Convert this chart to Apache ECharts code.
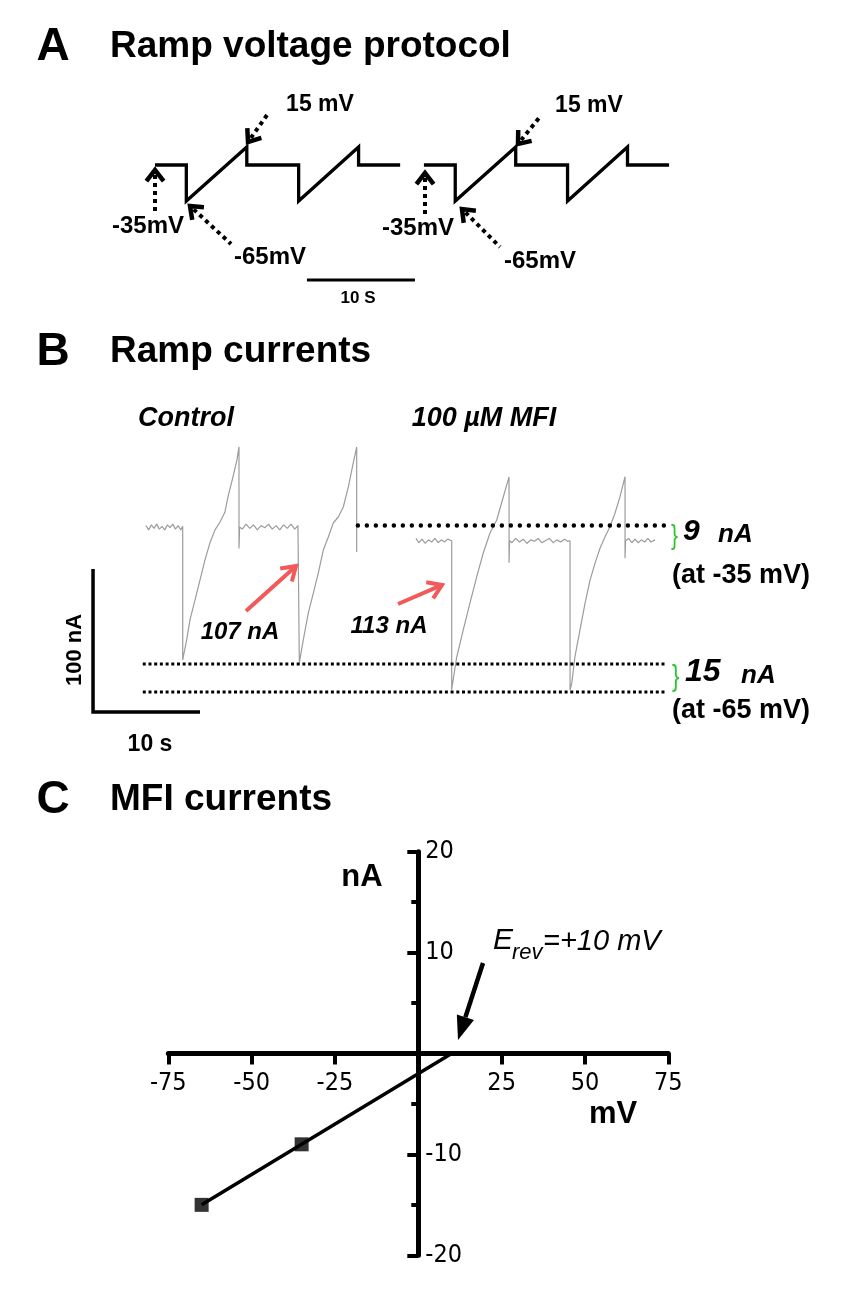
<!DOCTYPE html>
<html><head><meta charset="utf-8">
<script src="https://cdn.jsdelivr.net/npm/echarts@6/dist/echarts.min.js"></script>
<style>html,body{margin:0;padding:0;background:#fff}#c{width:842px;height:1296px}</style>
</head><body><div id="c"></div>
<script>
// ---------- Panel A: ramp voltage protocol (schematic, levels as drawn) ----------
const protoT = [0, 2.9, 2.9, 8.5, 8.5, 13.3, 13.3, 18.85, 18.85, 22.7];   // s
const protoV = [-35, -35, -65, -20, -35, -35, -65, -20, -35, -35];        // drawn level
const protoStarts = [0, 24.9];                                            // s
const scaleBarA = 10;                                                     // s

// ---------- Panel B: ramp currents (nA vs s) ----------
const ctrlT = [0,0.25,0.5,0.75,1.0,1.25,1.5,1.75,2.0,2.25,2.5,2.75,3.0,3.25,3.43,
  3.43,3.49,3.80,4.11,4.58,5.05,5.51,5.98,6.45,6.92,7.38,7.66,8.13,8.50,8.69,
  8.69,8.75,9.0,9.35,9.7,10.05,10.4,10.75,11.1,11.45,11.8,12.15,12.5,12.85,13.2,13.55,13.9,14.2,14.33,
  14.33,14.39,14.70,15.17,15.64,16.10,16.57,17.04,17.50,17.97,18.44,18.91,19.37,19.69,19.69];
const ctrlI = [1,-2,1.5,-1,2,-1.5,0.5,-2,1.5,-0.5,2,-1.5,1,-2,0.5,
  -93,-93,-79,-65,-51,-37,-23,-11,-2,3.5,10.5,21,35,47,56,
  -15,0,-1.5,2,-1,1.5,-2,1,-0.5,2,-1.5,1,-2,1.5,-1,2,-1.5,1,0,
  -95,-95.1,-79,-60.1,-46.2,-32.2,-16.1,-7,2.8,7,14,28,44.8,55.9,-17.5];
const mfiT = [25.23,25.5,25.8,26.1,26.4,26.7,27.0,27.3,27.6,27.9,28.2,28.57,
  28.57,28.66,29.04,29.65,30.28,30.90,31.52,32.15,32.78,33.39,33.93,
  33.93,33.98,34.2,34.55,34.9,35.25,35.6,35.95,36.3,36.65,37.0,37.35,37.7,38.05,38.4,38.75,39.1,39.4,39.63,
  39.63,39.79,40.09,40.56,41.03,41.50,41.96,42.43,42.90,43.36,43.83,44.30,44.77,
  44.77,44.82,45.1,45.4,45.7,46.0,46.3,46.6,46.9,47.2,47.57];
const mfiI = [-8,-11,-8.5,-11.5,-9,-10.5,-8,-11,-9,-10.5,-8.5,-9.6,
  -114,-109.1,-90.9,-72,-53.1,-35,-18.2,-4.2,4.9,21,35,
  -25,-9.6,-11,-8,-10.5,-8.5,-11.5,-9,-10,-8,-11,-9.5,-8,-11,-9,-10.5,-8.5,-10,-9.6,
  -114,-109.3,-90.7,-72,-53.4,-37.1,-25.4,-14.9,-6.8,0.2,9.6,21.2,35.2,
  -21.9,-9.6,-8,-11,-8.5,-11,-9,-10.5,-8,-10.5,-9];
const refLevelsI = [1, -95.8, -115.4];        // dotted reference levels (nA)
const refStartT = [19.8, -0.3, -0.3];         // s
const refEndT = 48.5;                         // s
const scaleBarB_nA = 100, scaleBarB_s = 10;

// ---------- Panel C: MFI I-V ----------
const ivV = [-65, -35];        // mV
const ivI = [-15, -9];         // nA
const eRev = 10;               // mV (fit meets 0 nA)
const cX = {min:-75, max:75, step:25};
const cY = {min:-20, max:20, step:10};

// ---------- helpers ----------
const SANS = '"Liberation Sans", Arial, Helvetica, sans-serif';
const NARROW = '"Liberation Sans Narrow", "DejaVu Sans Condensed", "Liberation Sans", Arial, sans-serif';
function txt(x, y, text, font, o) {
  o = o || {};
  return {type:'text', x:x, y:y, rotation:o.rot||0, scaleX:o.sx||1, z:100,
    style:{text:text, font:font, fill:o.color||'#000',
      textAlign:o.align||'left', align:o.align||'left',
      textVerticalAlign:'middle', verticalAlign:'middle'}};
}
function unit(a, b){ const dx=b[0]-a[0], dy=b[1]-a[1], L=Math.hypot(dx,dy); return [dx/L, dy/L]; }
function rot(u, deg){ const a=deg*Math.PI/180; return [u[0]*Math.cos(a)-u[1]*Math.sin(a), u[0]*Math.sin(a)+u[1]*Math.cos(a)]; }
function chevron(tip, tail, len, ang, w, color) {
  const u = unit(tip, tail), r1 = rot(u, ang), r2 = rot(u, -ang);
  return {type:'polyline', z:90, shape:{points:[[tip[0]+r1[0]*len, tip[1]+r1[1]*len], tip, [tip[0]+r2[0]*len, tip[1]+r2[1]*len]]},
    style:{stroke:color, lineWidth:w, fill:null, lineJoin:'miter', lineCap:'butt'}};
}
function shaft(tip, tail, off, w, color, dash) {
  const u = unit(tip, tail);
  return {type:'line', z:90, shape:{x1:tip[0]+u[0]*off, y1:tip[1]+u[1]*off, x2:tail[0], y2:tail[1]},
    style:{stroke:color, lineWidth:w, lineDash:dash||null, lineCap:'butt'}};
}
function dottedArrow(tip, tail){ return [shaft(tip, tail, 5, 4, '#000', [4,4]), chevron(tip, tail, 14, 38, 4.5, '#000')]; }
function redArrow(tip, tail){ return [shaft(tip, tail, 1, 4, '#f25a5a'), chevron(tip, tail, 16, 33, 4, '#f25a5a')]; }
function filledArrow(tip, tail, hl, hw, w) {
  const u = unit(tip, tail), n = [-u[1], u[0]];
  const b = [tip[0]+u[0]*hl, tip[1]+u[1]*hl];
  return [
    {type:'line', z:90, shape:{x1:b[0], y1:b[1], x2:tail[0], y2:tail[1]}, style:{stroke:'#000', lineWidth:w}},
    {type:'polygon', z:90, shape:{points:[tip, [b[0]+n[0]*hw, b[1]+n[1]*hw], [b[0]-n[0]*hw, b[1]-n[1]*hw]]}, style:{fill:'#000'}}
  ];
}

// ---------- series ----------
const series = [];
protoStarts.forEach(function(s){
  series.push({type:'line', xAxisIndex:0, yAxisIndex:0, showSymbol:false, clip:false, animation:false,
    data: protoT.map(function(t,i){ return [s+t, protoV[i]]; }),
    lineStyle:{color:'#000', width:3.3, join:'miter'}});
});
series.push({type:'line', xAxisIndex:0, yAxisIndex:0, showSymbol:false, clip:false, animation:false,
  data:[[14.07,-130.8],[14.07+scaleBarA,-130.8]], lineStyle:{color:'#000', width:3}});

series.push({type:'line', xAxisIndex:1, yAxisIndex:1, showSymbol:false, clip:false, animation:false,
  data: ctrlT.map(function(t,i){ return [t, ctrlI[i]]; }), lineStyle:{color:'#9c9c9c', width:1.2}});
series.push({type:'line', xAxisIndex:1, yAxisIndex:1, showSymbol:false, clip:false, animation:false,
  data: mfiT.map(function(t,i){ return [t, mfiI[i]]; }), lineStyle:{color:'#9c9c9c', width:1.2}});
refLevelsI.forEach(function(v, k){
  series.push({type:'line', xAxisIndex:1, yAxisIndex:1, showSymbol:false, clip:false, animation:false, z:5,
    data:[[refStartT[k], v],[refEndT, v]],
    lineStyle: k===0 ? {color:'#000', width:4.5, type:[0,9], cap:'round'} : {color:'#000', width:3, type:[3,2.7]}});
});
series.push({type:'line', xAxisIndex:1, yAxisIndex:1, showSymbol:false, clip:false, animation:false,
  data:[[-4.95,-129.4+scaleBarB_nA],[-4.95,-129.4],[-4.95+scaleBarB_s,-129.4]], lineStyle:{color:'#000', width:3.5, join:'miter'}});

series.push({type:'line', xAxisIndex:2, yAxisIndex:2, showSymbol:false, clip:false, animation:false, z:10,
  data: ivV.map(function(v,i){ return [v, ivI[i]]; }).concat([[eRev, 0]]), lineStyle:{color:'#000', width:3.5}});
series.push({type:'scatter', xAxisIndex:2, yAxisIndex:2, symbol:'rect', symbolSize:14, animation:false, z:11,
  itemStyle:{color:'#000'}, data: ivV.map(function(v,i){ return [v, ivI[i]]; })});

const gridC = {left:168.3, width:500, top:851.7, height:403.6};
// place the crossing axes at the zero of the other axis
const xOff = -gridC.height * (0 - cY.min) / (cY.max - cY.min);
const yOff = -gridC.width * (0 - cX.min) / (cX.max - cX.min);

const hidden = {show:false};
const option = {
  backgroundColor:'#fff',
  animation:false,
  grid:[
    {left:155, width:513, top:141, height:144},
    {left:92.5, width:577.8, top:441.2, height:271.7},
    gridC
  ],
  xAxis:[
    {gridIndex:0, type:'value', min:0, max:47.5, show:false, splitLine:hidden},
    {gridIndex:1, type:'value', min:-5, max:49, show:false, splitLine:hidden},
    {gridIndex:2, type:'value', min:cX.min, max:cX.max, interval:cX.step, position:'bottom', offset:xOff,
      axisLine:{onZero:false, lineStyle:{color:'#000', width:5}},
      axisTick:{show:true, length:11, lineStyle:{color:'#000', width:4}},
      axisLabel:{color:'#000', fontSize:25, fontFamily:NARROW, margin:17,
        formatter:function(v){ return v===0 ? '' : String(v); }},
      splitLine:hidden}
  ],
  yAxis:[
    {gridIndex:0, type:'value', min:-135, max:-15, show:false, splitLine:hidden},
    {gridIndex:1, type:'value', min:-130, max:60, show:false, splitLine:hidden},
    {gridIndex:2, type:'value', min:cY.min, max:cY.max, interval:cY.step, position:'left', offset:yOff,
      axisLine:{onZero:false, lineStyle:{color:'#000', width:5}},
      axisTick:{show:true, length:11, lineStyle:{color:'#000', width:4}},
      minorTick:{show:true, splitNumber:2, length:7, lineStyle:{color:'#000', width:4}},
      axisLabel:{inside:true, color:'#000', fontSize:25, fontFamily:NARROW, margin:7,
        formatter:function(v){ return v===0 ? '' : String(v); }},
      splitLine:hidden, minorSplitLine:hidden}
  ],
  series: series
};

const B = 'bold ', BI = 'italic bold ', I = 'italic ';
let g = [
  txt(53,47,'A', B+'46px '+SANS, {align:'center'}),
  txt(110,47,'Ramp voltage protocol', B+'37px '+SANS),
  txt(320,105,'15 mV', B+'23px '+SANS, {align:'center'}),
  txt(148,226,'-35mV', B+'24px '+SANS, {align:'center'}),
  txt(270,257,'-65mV', B+'24px '+SANS, {align:'center'}),
  txt(589,106,'15 mV', B+'23px '+SANS, {align:'center'}),
  txt(418,228,'-35mV', B+'24px '+SANS, {align:'center'}),
  txt(540,261,'-65mV', B+'24px '+SANS, {align:'center'}),
  txt(358,298,'10 S', B+'17px '+SANS, {align:'center'}),

  txt(53,352,'B', B+'46px '+SANS, {align:'center'}),
  txt(110,352,'Ramp currents', B+'37px '+SANS),
  txt(186,419,'Control', BI+'27px '+SANS, {align:'center'}),
  txt(484,419,'100 µM MFI', BI+'27px '+SANS, {align:'center'}),
  txt(240,632,'107 nA', BI+'24px '+SANS, {align:'center'}),
  txt(389,626,'113 nA', BI+'24px '+SANS, {align:'center'}),
  txt(75,650,'100 nA', B+'22px '+SANS, {align:'center', rot:Math.PI/2}),
  txt(150,745,'10 s', B+'23px '+SANS, {align:'center'}),
  txt(671,536,'}', '28px '+SANS, {color:'#2ec42e', sx:0.75}),
  txt(672,678,'}', '30px '+SANS, {color:'#2ec42e', sx:0.75}),
  txt(683,532,'9', BI+'30px '+SANS),
  txt(718,535,'nA', BI+'26px '+SANS),
  txt(672,576,'(at -35 mV)', B+'27px '+SANS),
  txt(685,672,'15', BI+'32px '+SANS),
  txt(741,676,'nA', BI+'26px '+SANS),
  txt(672,711,'(at -65 mV)', B+'27px '+SANS),

  txt(53,800,'C', B+'46px '+SANS, {align:'center'}),
  txt(110,800,'MFI currents', B+'37px '+SANS),
  txt(362,877,'nA', B+'31px '+SANS, {align:'center'}),
  txt(613,1114,'mV', B+'31px '+SANS, {align:'center'}),
  txt(493,941,'E', I+'30px '+SANS),
  txt(512,953,'rev', I+'22px '+SANS),
  txt(543,942,'=+10 mV', I+'29px '+SANS)
];
g = g.concat(dottedArrow([155,170],[155,212]), dottedArrow([190,206],[231,244]), dottedArrow([248,142],[267,115]),
             dottedArrow([425,173],[425,215]), dottedArrow([462,209],[500,247]), dottedArrow([518,144],[539,118]),
             redArrow([296,566],[246,611]), redArrow([442,585],[398,604]),
             filledArrow([458,1040],[483,963], 24, 9, 4.5));
option.graphic = {elements: g};

const chart = echarts.init(document.getElementById('c'), null, {renderer:'canvas', width:842, height:1296});
chart.setOption(option);
</script>
</body></html>
